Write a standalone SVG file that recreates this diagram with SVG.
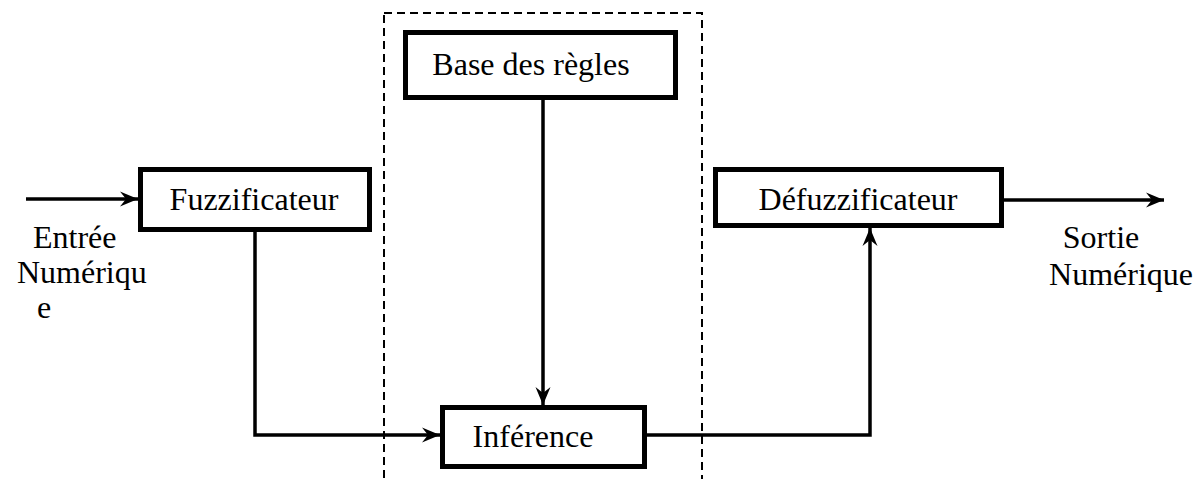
<svg xmlns="http://www.w3.org/2000/svg" width="1200" height="479" viewBox="0 0 1200 479">
<style>
.box{fill:#fff;stroke:#000;stroke-width:5}
.t{font-family:"Liberation Serif","Times New Roman",serif;font-size:32px;fill:#000}
.c{text-anchor:middle}
.line{fill:none;stroke:#000;stroke-width:3.5}
.dash{fill:none;stroke:#000;stroke-width:2;stroke-dasharray:8,5}
</style>
<defs>
<marker id="ah" markerUnits="userSpaceOnUse" markerWidth="22" markerHeight="18" refX="18" refY="9" orient="auto" overflow="visible">
<path d="M0,1.5 L18,9 L0,16.5 L6,9 z" fill="#000"/>
</marker>
</defs>
<rect class="dash" x="384" y="13" width="318" height="480"/>
<g id="connectors">
<line class="line" x1="26" y1="199" x2="138" y2="199" marker-end="url(#ah)"/>
<polyline class="line" points="255,230 255,435 440,435" marker-end="url(#ah)"/>
<line class="line" x1="543" y1="100" x2="543" y2="405" marker-end="url(#ah)"/>
<polyline class="line" points="647,435 870,435 870,228" marker-end="url(#ah)"/>
<line class="line" x1="1003" y1="200" x2="1164" y2="200" marker-end="url(#ah)"/>
</g>
<g id="fuzzificateur">
<rect class="box" x="140.5" y="169.5" width="229" height="60"/>
<text class="t c" x="254" y="210">Fuzzificateur</text>
</g>
<g id="base">
<rect class="box" x="405.5" y="32.5" width="270" height="65"/>
<text class="t c" x="531" y="75">Base des règles</text>
</g>
<g id="inference">
<rect class="box" x="442.5" y="407.5" width="202" height="59"/>
<text class="t c" x="533" y="447">Inférence</text>
</g>
<g id="defuzzificateur">
<rect class="box" x="715.5" y="169.5" width="286" height="56"/>
<text class="t c" x="858" y="210">Défuzzificateur</text>
</g>
<g id="entree">
<text class="t" x="33" y="248">Entrée</text>
<text class="t" x="17" y="283">Numériqu</text>
<text class="t" x="37" y="318">e</text>
</g>
<g id="sortie">
<text class="t c" x="1101" y="248">Sortie</text>
<text class="t c" x="1121" y="285">Numérique</text>
</g>
</svg>
